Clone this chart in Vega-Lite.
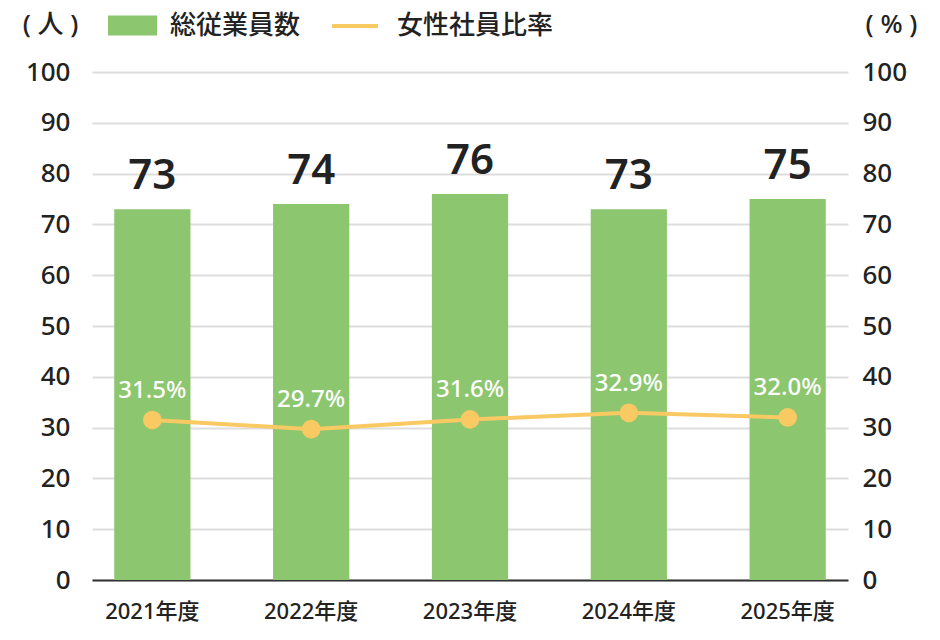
{
  "$schema": "https://vega.github.io/schema/vega-lite/v6.json",
  "width": 756,
  "height": 508,
  "autosize": {"type": "none"},
  "padding": {"left": 92, "top": 72, "right": 92, "bottom": 60},
  "config": {
    "font": "Noto Sans, Noto Sans CJK JP",
    "view": {"stroke": null},
    "axis": {"ticks": false, "labelColor": "#222", "titleColor": "#222"}
  },
  "data": {
    "values": [
      {"year": "2021年度", "employees": 73, "ratio": 31.5, "label": "31.5%"},
      {"year": "2022年度", "employees": 74, "ratio": 29.7, "label": "29.7%"},
      {"year": "2023年度", "employees": 76, "ratio": 31.6, "label": "31.6%"},
      {"year": "2024年度", "employees": 73, "ratio": 32.9, "label": "32.9%"},
      {"year": "2025年度", "employees": 75, "ratio": 32.0, "label": "32.0%"}
    ]
  },
  "encoding": {
    "x": {
      "field": "year",
      "type": "nominal",
      "sort": null,
      "scale": {"paddingInner": 0.52, "paddingOuter": 0.14},
      "axis": {
        "title": null,
        "labelAngle": 0,
        "labelFontSize": 22,
        "labelFontWeight": 500,
        "labelPadding": 21,
        "domainColor": "#333",
        "domainWidth": 2
      }
    }
  },
  "layer": [
    {
      "encoding": {
        "y": {
          "field": "employees",
          "type": "quantitative",
          "scale": {"domain": [0, 100]},
          "axis": {
            "orient": "left",
            "values": [0, 10, 20, 30, 40, 50, 60, 70, 80, 90, 100],
            "domain": false,
            "gridColor": "#dddddd",
            "gridWidth": 2,
            "labelFontSize": 26,
            "labelFontWeight": 500,
            "labelPadding": 22,
            "title": "( 人 )",
            "titleAngle": 0,
            "titleX": -42,
            "titleY": -48,
            "titleAlign": "center",
            "titleBaseline": "middle",
            "titleFontSize": 26,
            "titleFontWeight": 500
          }
        }
      },
      "layer": [
        {
          "mark": {"type": "bar", "color": "#8cc66e"},
          "encoding": {
            "fill": {
              "datum": "総従業員数",
              "scale": {"range": ["#8cc66e"]},
              "legend": {
                "title": null,
                "orient": "none",
                "legendX": 16,
                "legendY": -71,
                "symbolType": "M-1,-0.41H1V0.41H-1Z",
                "symbolSize": 2401,
                "symbolStrokeWidth": 0,
                "labelFontSize": 26,
                "labelFontWeight": 500,
                "labelColor": "#222",
                "labelOffset": 13
              }
            }
          }
        },
        {
          "mark": {"type": "text", "fontSize": 42, "fontWeight": 600, "baseline": "alphabetic", "dy": -20, "color": "#222"},
          "encoding": {"text": {"field": "employees", "type": "quantitative"}}
        }
      ]
    },
    {
      "encoding": {
        "y": {
          "field": "ratio",
          "type": "quantitative",
          "scale": {"domain": [0, 100]},
          "axis": {
            "orient": "right",
            "values": [0, 10, 20, 30, 40, 50, 60, 70, 80, 90, 100],
            "domain": false,
            "grid": false,
            "labelFontSize": 26,
            "labelFontWeight": 500,
            "labelPadding": 14,
            "title": "( % )",
            "titleAngle": 0,
            "titleX": 43,
            "titleY": -48,
            "titleAlign": "center",
            "titleBaseline": "middle",
            "titleFontSize": 26,
            "titleFontWeight": 500
          }
        }
      },
      "layer": [
        {
          "mark": {"type": "line", "color": "#f9c963", "strokeWidth": 4},
          "encoding": {
            "stroke": {
              "datum": "女性社員比率",
              "scale": {"range": ["#f9c963"]},
              "legend": {
                "title": null,
                "orient": "none",
                "legendX": 238,
                "legendY": -71,
                "symbolType": "stroke",
                "symbolSize": 2116,
                "symbolStrokeWidth": 4,
                "labelFontSize": 26,
                "labelFontWeight": 500,
                "labelColor": "#222",
                "labelOffset": 17
              }
            }
          }
        },
        {
          "mark": {"type": "circle", "size": 350, "color": "#f9c963", "opacity": 1}
        },
        {
          "mark": {"type": "text", "fontSize": 24, "fontWeight": 500, "baseline": "alphabetic", "dy": -22, "color": "white"},
          "encoding": {"text": {"field": "label"}}
        }
      ]
    }
  ],
  "resolve": {"scale": {"y": "independent", "fill": "independent", "stroke": "independent"}}
}
